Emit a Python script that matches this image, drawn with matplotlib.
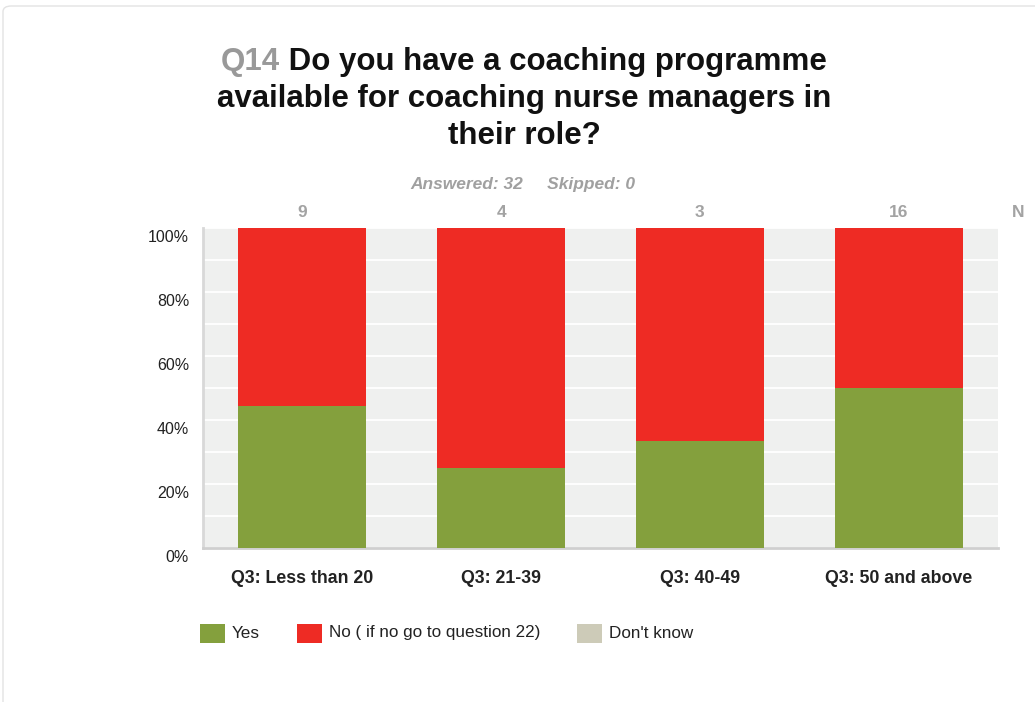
import matplotlib.pyplot as plt
from matplotlib.patches import Rectangle, FancyBboxPatch
import matplotlib.transforms as mtransforms

plt.rcParams['font.family'] = ['Liberation Sans', 'DejaVu Sans']

# survey answers split by age group
categories = ["Q3: Less than 20", "Q3: 21-39", "Q3: 40-49", "Q3: 50 and above"]
n_resp = [9, 4, 3, 16]
yes_counts = [4, 1, 1, 8]
no_counts = [5, 3, 2, 8]
dk_counts = [0, 0, 0, 0]
legend_labels = ["Yes", "No ( if no go to question 22)", "Don't know"]
y_ticks = [0, 20, 40, 60, 80, 100]

green = '#84a03d'
red = '#ee2b24'
grey = '#cdcbb8'

W, H = 1035, 702
fig = plt.figure(figsize=(W / 100, H / 100), dpi=100)
fig.patch.set_facecolor('white')

# card outline
card = FancyBboxPatch((3 / W, -0.1), 1.2, (H - 6) / H + 0.1,
                      boxstyle="round,pad=0,rounding_size=0.008",
                      transform=fig.transFigure, fc='none', ec='#e3e3e3',
                      lw=1, zorder=-1)
fig.patches.append(card)

ax = fig.add_axes([203 / W, 1 - 548 / H, 795 / W, 320 / H])
ax.set_facecolor('#eff0ef')

x = list(range(len(categories)))
yes_pct = [y / n * 100 for y, n in zip(yes_counts, n_resp)]
no_pct = [v / n * 100 for v, n in zip(no_counts, n_resp)]
dk_pct = [v / n * 100 for v, n in zip(dk_counts, n_resp)]
no_bottom = yes_pct
dk_bottom = [a + b for a, b in zip(yes_pct, no_pct)]

bw = 0.645
ax.bar(x, yes_pct, width=bw, color=green, zorder=3)
ax.bar(x, no_pct, width=bw, bottom=no_bottom, color=red, zorder=3)
ax.bar(x, dk_pct, width=bw, bottom=dk_bottom, color=grey, zorder=3)

ax.set_xlim(-0.5, 3.5)
ax.set_ylim(0, 100)
ax.set_yticks(y_ticks)
ax.set_yticks(range(10, 100, 20), minor=True)
ax.yaxis.grid(True, which='both', color='white', lw=1.3, zorder=1)
ax.set_axisbelow(True)
ax.set_yticklabels([f"{t}%" for t in y_ticks], fontsize=11.5, color='#222222')
ax.tick_params(axis='y', which='both', length=0, pad=10)
offset = mtransforms.ScaledTranslation(0, -6 / 72, fig.dpi_scale_trans)
for lbl in ax.get_yticklabels():
    lbl.set_transform(lbl.get_transform() + offset)

ax.set_xticks(x)
ax.set_xticklabels(categories, fontsize=12.8, fontweight='bold', color='#222222')
ax.tick_params(axis='x', length=0, pad=16)

for s in ['top', 'right']:
    ax.spines[s].set_visible(False)
ax.spines['left'].set_color('#d8d8d8')
ax.spines['left'].set_linewidth(2)
ax.spines['bottom'].set_color('#cfcfcf')
ax.spines['bottom'].set_linewidth(2)

# respondent counts above each bar
for i, n in enumerate(n_resp):
    ax.annotate(str(n), xy=(i, 1), xycoords=ax.get_xaxis_transform(),
                xytext=(0, 6), textcoords='offset points', ha='center',
                va='bottom', fontsize=12.5, fontweight='bold', color='#a3a3a3')
ax.annotate("N", xy=(1.025, 1), xycoords='axes fraction',
            xytext=(0, 6), textcoords='offset points', ha='center',
            va='bottom', fontsize=12.5, fontweight='bold', color='#a3a3a3')

fig.text(523 / W, 1 - 184 / H, "Answered: 32     Skipped: 0", ha='center',
         va='center', fontsize=12.5, fontweight='bold', style='italic',
         color='#a0a0a0')

# title, question number in grey
title_lines = ["available for coaching nurse managers in", "their role?"]
fig.canvas.draw()
renderer = fig.canvas.get_renderer()
t_q = fig.text(0, 1 - 62 / H, "Q14", fontsize=22.5, fontweight='bold',
               color='#999999', va='center')
t_r = fig.text(0, 1 - 62 / H, " Do you have a coaching programme", fontsize=22.5,
               fontweight='bold', color='#111111', va='center')
wq = t_q.get_window_extent(renderer).width
wr = t_r.get_window_extent(renderer).width
x0 = 524 - (wq + wr) / 2
t_q.set_x(x0 / W)
t_r.set_x((x0 + wq) / W)
for k, line in enumerate(title_lines):
    fig.text(524 / W, 1 - (99 + 36.5 * k) / H, line, ha='center', va='center',
             fontsize=22.5, fontweight='bold', color='#111111')

# legend
leg_colors = [green, red, grey]
leg_x = [200, 297, 577]
for lx, c, lab in zip(leg_x, leg_colors, legend_labels):
    fig.patches.append(Rectangle((lx / W, 1 - 643 / H), 25 / W, 19 / H,
                                 transform=fig.transFigure, fc=c, ec='none'))
    fig.text((lx + 32) / W, 1 - 633 / H, lab, ha='left', va='center',
             fontsize=12.3, color='#222222')

fig.savefig('out.png', dpi=100)
